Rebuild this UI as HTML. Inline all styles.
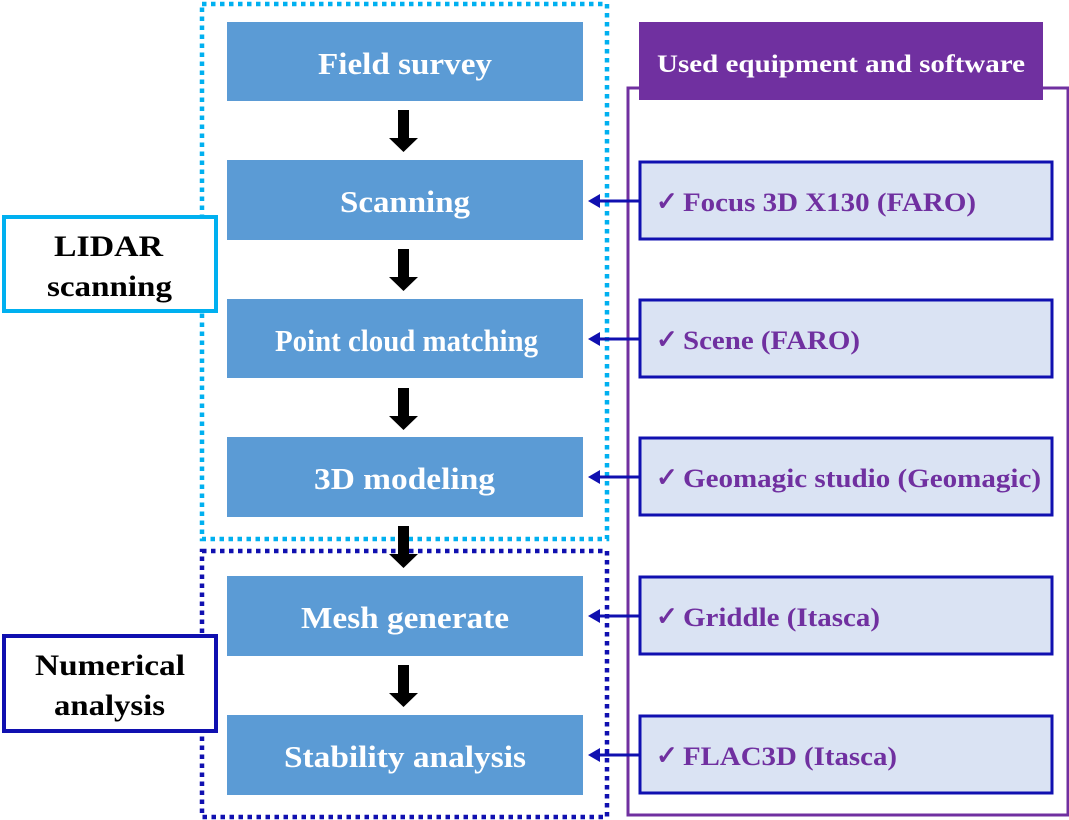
<!DOCTYPE html>
<html><head><meta charset="utf-8"><style>
html,body{margin:0;padding:0;background:#fff;}
svg{display:block;}
text{font-family:"Liberation Serif",serif;font-weight:bold;}
</style></head><body>
<svg width="1069" height="820" viewBox="0 0 1069 820" xmlns="http://www.w3.org/2000/svg">
<rect x="202" y="4" width="405" height="535" fill="none" stroke="#00b0f0" stroke-width="4.5" stroke-dasharray="4.5,4.5"/>
<rect x="202" y="551" width="405" height="266" fill="none" stroke="#1010b0" stroke-width="4.5" stroke-dasharray="4.5,4.5"/>
<rect x="628" y="88" width="440" height="727" fill="none" stroke="#7030a0" stroke-width="3"/>
<rect x="639" y="22" width="404" height="78" fill="#7030a0"/>
<text x="657" y="72" fill="#fff" font-size="25" textLength="368" lengthAdjust="spacingAndGlyphs">Used equipment and software</text>
<g fill="#5b9bd5">
<rect x="227" y="22" width="356" height="79"/>
<rect x="227" y="160" width="356" height="80"/>
<rect x="227" y="299" width="356" height="79"/>
<rect x="227" y="437" width="356" height="80"/>
<rect x="227" y="576" width="356" height="80"/>
<rect x="227" y="715" width="356" height="80"/>
</g>
<g fill="#fff" font-size="31">
<text x="318" y="74" textLength="174" lengthAdjust="spacingAndGlyphs">Field survey</text>
<text x="340" y="212" textLength="130" lengthAdjust="spacingAndGlyphs">Scanning</text>
<text x="275" y="351" textLength="263" lengthAdjust="spacingAndGlyphs">Point cloud matching</text>
<text x="314" y="489" textLength="181" lengthAdjust="spacingAndGlyphs">3D modeling</text>
<text x="301" y="628" textLength="208" lengthAdjust="spacingAndGlyphs">Mesh generate</text>
<text x="284" y="767" textLength="242" lengthAdjust="spacingAndGlyphs">Stability analysis</text>
</g>
<g fill="#000">
<path d="M398,110 h11 v28 h9 l-14.5,14 l-14.5,-14 h9 z"/>
<path d="M398,249 h11 v28 h9 l-14.5,14 l-14.5,-14 h9 z"/>
<path d="M398,388 h11 v28 h9 l-14.5,14 l-14.5,-14 h9 z"/>
<path d="M398,526 h11 v28 h9 l-14.5,14 l-14.5,-14 h9 z"/>
<path d="M398,665 h11 v28 h9 l-14.5,14 l-14.5,-14 h9 z"/>
</g>
<rect x="4" y="217" width="212" height="94" fill="#fff" stroke="#00b0f0" stroke-width="4"/>
<text x="54" y="256" font-size="30" fill="#000" textLength="109" lengthAdjust="spacingAndGlyphs">LIDAR</text>
<text x="47" y="296" font-size="30" fill="#000" textLength="125" lengthAdjust="spacingAndGlyphs">scanning</text>
<rect x="4" y="636" width="212" height="95" fill="#fff" stroke="#1010b0" stroke-width="4"/>
<text x="35" y="675" font-size="30" fill="#000" textLength="150" lengthAdjust="spacingAndGlyphs">Numerical</text>
<text x="54" y="715" font-size="30" fill="#000" textLength="111" lengthAdjust="spacingAndGlyphs">analysis</text>
<g fill="#dae3f3" stroke="#1010b0" stroke-width="3">
<rect x="640" y="162" width="412" height="77"/>
<rect x="640" y="300" width="412" height="77"/>
<rect x="640" y="438" width="412" height="77"/>
<rect x="640" y="577" width="412" height="77"/>
<rect x="640" y="716" width="412" height="77"/>
</g>
<g fill="#7030a0" font-size="26">
<text x="656" y="210">✓</text>
<text x="656" y="348">✓</text>
<text x="656" y="486">✓</text>
<text x="656" y="625">✓</text>
<text x="656" y="764">✓</text>
<text x="683" y="211" textLength="293" lengthAdjust="spacingAndGlyphs">Focus 3D X130 (FARO)</text>
<text x="683" y="349" textLength="177" lengthAdjust="spacingAndGlyphs">Scene (FARO)</text>
<text x="683" y="487" textLength="358" lengthAdjust="spacingAndGlyphs">Geomagic studio (Geomagic)</text>
<text x="683" y="626" textLength="197" lengthAdjust="spacingAndGlyphs">Griddle (Itasca)</text>
<text x="683" y="765" textLength="214" lengthAdjust="spacingAndGlyphs">FLAC3D (Itasca)</text>
</g>
<g stroke="#1010b0" stroke-width="3">
<line x1="639" y1="201" x2="596" y2="201"/>
<line x1="639" y1="339" x2="596" y2="339"/>
<line x1="639" y1="477" x2="596" y2="477"/>
<line x1="639" y1="616" x2="596" y2="616"/>
<line x1="639" y1="755" x2="596" y2="755"/>
</g>
<g fill="#1010b0">
<path d="M588,201 l12,-7 v14 z"/>
<path d="M588,339 l12,-7 v14 z"/>
<path d="M588,477 l12,-7 v14 z"/>
<path d="M588,616 l12,-7 v14 z"/>
<path d="M588,755 l12,-7 v14 z"/>
</g>
</svg>
</body></html>
